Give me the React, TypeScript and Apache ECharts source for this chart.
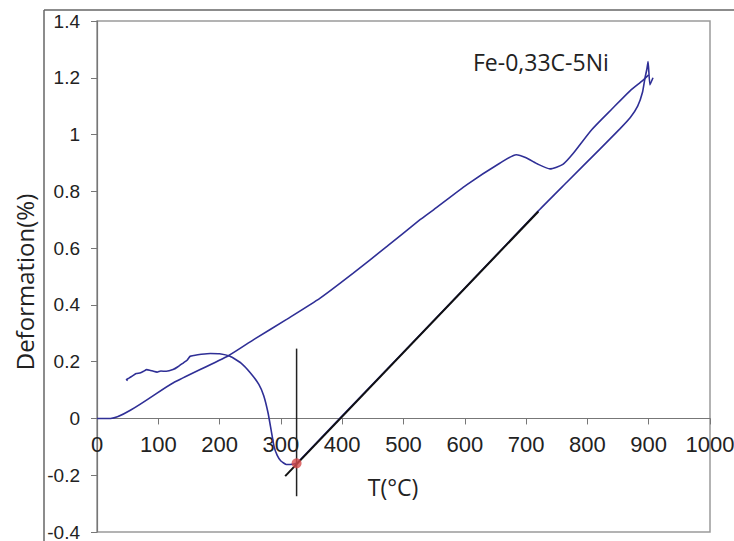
import React, { useEffect, useRef } from "react";
import * as echarts from "echarts";

const xTicks = [0, 100, 200, 300, 400, 500, 600, 700, 800, 900, 1000];
const yTicks = [-0.4, -0.2, 0, 0.2, 0.4, 0.6, 0.8, 1, 1.2, 1.4];

const heatingT = [0, 22, 124, 215, 255, 310, 364, 418, 473, 527, 549, 603, 657, 684, 700, 720, 739, 760, 777, 807, 840, 870, 890, 900];
const heatingD = [0, 0, 0.125, 0.222, 0.277, 0.35, 0.424, 0.512, 0.606, 0.70, 0.735, 0.823, 0.899, 0.929, 0.918, 0.895, 0.879, 0.895, 0.934, 1.017, 1.09, 1.155, 1.19, 1.21];

const coolingT = [907, 902, 899, 897, 894, 890, 882, 870, 853, 820, 766, 720, 600, 400, 330, 325.6, 315, 309, 300, 294, 289, 284, 279, 272, 264, 250, 235, 217, 200, 185, 170, 158, 152, 147, 141, 132, 124, 113, 104, 98, 92, 86, 81, 76, 70, 64, 58, 52, 48, 50];
const coolingD = [1.2, 1.175, 1.257, 1.23, 1.2, 1.15, 1.1, 1.06, 1.02, 0.948, 0.831, 0.731, 0.459, 0.009, -0.149, -0.158, -0.162, -0.162, -0.15, -0.13, -0.1, -0.04, 0.02, 0.08, 0.12, 0.161, 0.195, 0.219, 0.228, 0.229, 0.226, 0.222, 0.219, 0.205, 0.196, 0.182, 0.172, 0.166, 0.167, 0.163, 0.166, 0.17, 0.172, 0.166, 0.16, 0.158, 0.15, 0.142, 0.137, 0.133];

const fitT = [307, 720];
const fitD = [-0.203, 0.729];

const msT = [325.6, 325.6];
const msD = [0.246, -0.274];

const msPointT = 325.6;
const msPointD = -0.158;

const zip = (a: number[], b: number[]) => a.map((v, i) => [v, b[i]]);

export default function App() {
  const ref = useRef<HTMLDivElement>(null);
  useEffect(() => {
    const chart = echarts.init(ref.current!, null, { renderer: "svg" });
    const gridTop = 21;
    const gridBottom = 9;
    const gridHeight = 541 - gridTop - gridBottom;
    const yMin = yTicks[0];
    const yMax = yTicks[yTicks.length - 1];
    const zeroOffset = -((0 - yMin) / (yMax - yMin)) * gridHeight;
    chart.setOption({
      animation: false,
      backgroundColor: "#ffffff",
      grid: {
        left: 97,
        top: gridTop,
        right: 24,
        bottom: gridBottom,
        outerBoundsMode: "none",
        containLabel: false,
        show: true,
        borderColor: "#9a9a9a",
        borderWidth: 1.5,
        backgroundColor: "transparent",
      },
      xAxis: {
        type: "value",
        min: xTicks[0],
        max: xTicks[xTicks.length - 1],
        interval: 100,
        position: "bottom",
        offset: zeroOffset,
        axisLine: { onZero: false, lineStyle: { color: "#777", width: 1.2 } },
        axisTick: { show: true, length: 6, lineStyle: { color: "#777" } },
        axisLabel: {
          fontFamily: "Liberation Sans",
          fontSize: 22,
          color: "#222",
          margin: 15,
          showMinLabel: true,
          showMaxLabel: true,
          hideOverlap: false,
          formatter: (v: number) => String(v),
        },
        splitLine: { show: false },
      },
      yAxis: {
        type: "value",
        min: yMin,
        max: yMax,
        interval: 0.2,
        axisLine: { onZero: false, lineStyle: { color: "#777", width: 1.2 } },
        axisTick: { show: true, length: 6, lineStyle: { color: "#777" } },
        axisLabel: {
          fontFamily: "Liberation Sans",
          fontSize: 19,
          color: "#222",
          margin: 17,
          formatter: (v: number) => String(parseFloat(v.toFixed(1))),
        },
        splitLine: { show: false },
      },
      series: [
        {
          type: "line",
          data: zip(heatingT, heatingD),
          showSymbol: false,
          smooth: 0.2,
          lineStyle: { color: "#2f2f96", width: 1.6 },
          z: 2,
        },
        {
          type: "line",
          data: zip(coolingT, coolingD),
          showSymbol: false,
          smooth: 0.15,
          lineStyle: { color: "#2f2f96", width: 1.6 },
          z: 2,
        },
        {
          type: "line",
          data: zip(fitT, fitD),
          showSymbol: false,
          lineStyle: { color: "#111", width: 2 },
          z: 3,
        },
        {
          type: "line",
          data: zip(msT, msD),
          showSymbol: false,
          lineStyle: { color: "#222", width: 1.5 },
          z: 3,
        },
        {
          type: "scatter",
          data: [[msPointT, msPointD]],
          symbolSize: 10,
          itemStyle: { color: "#d64c4c" },
          z: 4,
        },
      ],
      graphic: [
        { type: "line", shape: { x1: 44, y1: 10, x2: 44, y2: 541 }, style: { stroke: "#666", lineWidth: 1.5 } },
        { type: "line", shape: { x1: 44, y1: 10, x2: 734, y2: 10 }, style: { stroke: "#666", lineWidth: 1.5 } },
        {
          type: "text",
          x: 473,
          y: 62,
          style: { text: "Fe-0,33C-5Ni", fontFamily: "Open Sans", fontSize: 23, fill: "#222", align: "left", verticalAlign: "middle" },
        },
        {
          type: "text",
          x: 393,
          y: 487,
          style: { text: "T(°C)", fontFamily: "Open Sans", fontSize: 23, fill: "#222", align: "center", verticalAlign: "middle" },
        },
        {
          type: "text",
          x: 24,
          y: 282,
          rotation: Math.PI / 2,
          style: { text: "Deformation(%)", fontFamily: "Open Sans", fontSize: 24, fill: "#222", align: "center", verticalAlign: "middle" },
        },
      ],
    });
    return () => chart.dispose();
  }, []);
  return <div ref={ref} style={{ position: "fixed", left: 0, top: 0, width: 734, height: 541 }} />;
}
